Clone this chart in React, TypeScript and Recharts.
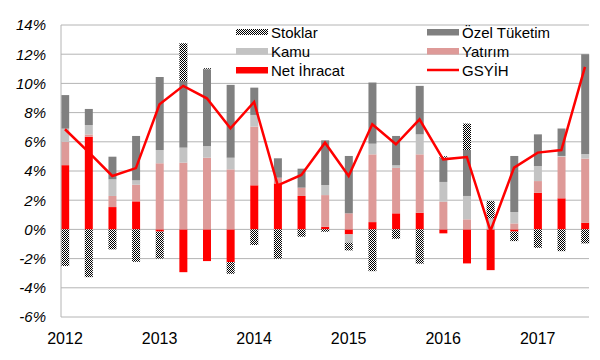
import { Bar, CartesianGrid, ComposedChart, Line, XAxis, YAxis } from "recharts";

const periods = [
  "2012-1", "2012-2", "2012-3", "2012-4",
  "2013-1", "2013-2", "2013-3", "2013-4",
  "2014-1", "2014-2", "2014-3", "2014-4",
  "2015-1", "2015-2", "2015-3", "2015-4",
  "2016-1", "2016-2", "2016-3", "2016-4",
  "2017-1", "2017-2", "2017-3"
];

const netIhracat = [4.4, 6.35, 1.53, 1.92, -0.15, -2.93, -2.17, -2.24, 3.02, 3.15, 2.29, 0.18, -0.34, 0.5, 1.1, 1.14, -0.27, -2.33, -2.79, -0.15, 2.51, 2.13, 0.46];
const yatirim = [1.6, 0.15, 0.76, 1.14, 4.53, 4.57, 4.91, 4.11, 4.02, 0.39, 0.57, 2.17, 1.1, 4.64, 3.11, 4.0, 1.9, 0.69, 0, 0.41, 0.8, 2.85, 4.39];
const kamu = [0.9, 0.65, 1.14, 0.3, 0.91, 1.03, 0.8, 0.8, 0.8, 0, 0, 0.69, -0.57, 0.73, 0.18, 1.37, 1.35, 1.6, 0.75, 0.78, 1.03, 0.05, 0.29];
const ozelTuketim = [2.3, 1.1, 1.55, 3.04, 5.0, 4.57, 5.26, 4.99, 1.87, 1.33, 1.3, 3.06, 3.93, 4.19, 2.01, 3.32, 1.66, 3.15, 0, 3.84, 2.17, 1.88, 6.86];
const stoklar = [-2.51, -3.27, -1.37, -2.22, -1.85, 2.58, 0.07, -0.8, -1.07, -2.01, -0.5, -0.16, -0.53, -2.86, -0.64, -2.35, 0.1, 1.81, 1.19, -0.65, -1.26, -1.49, -0.96];
const gsyih = [6.86, 5.3, 3.66, 4.2, 8.57, 9.83, 8.98, 6.93, 8.73, 3.02, 3.73, 5.94, 3.66, 7.2, 5.83, 7.54, 4.8, 4.96, -0.1, 4.23, 5.26, 5.44, 11.13];

const percentTicks = [-6, -4, -2, 0, 2, 4, 6, 8, 10, 12, 14];

const chartRows = periods.map((period, idx) => ({
  idx,
  period,
  netIhracat: netIhracat[idx],
  yatirim: yatirim[idx],
  kamu: kamu[idx],
  ozelTuketim: ozelTuketim[idx],
  stoklar: stoklar[idx],
  gsyih: gsyih[idx]
}));

const yearTicks = periods.map((p, i) => (p.endsWith("-1") ? i : -1)).filter((i) => i >= 0);

const FONT = '"Liberation Sans", Arial, sans-serif';
const GRID = "#b4b4b4";
const RED = "#ff0000";
const PINK = "#de9a98";
const LIGHT = "#c3c3c3";
const DARK = "#808080";

const legendItems = [
  { label: "Stoklar", kind: "pattern", color: "", left: 236, top: 32 },
  { label: "Kamu", kind: "box", color: LIGHT, left: 236, top: 51 },
  { label: "Net İhracat", kind: "box", color: RED, left: 236, top: 70 },
  { label: "Özel Tüketim", kind: "box", color: DARK, left: 427, top: 32 },
  { label: "Yatırım", kind: "box", color: PINK, left: 427, top: 51 },
  { label: "GSYİH", kind: "line", color: RED, left: 427, top: 70 }
];

function Swatch({ kind, color }: { kind: string; color: string }) {
  if (kind === "line") {
    return (
      <svg width={32} height={8} style={{ display: "block" }}>
        <line x1={0} x2={32} y1={4} y2={4} stroke={color} strokeWidth={2.5} />
      </svg>
    );
  }
  if (kind === "pattern") {
    return (
      <svg width={32} height={8} style={{ display: "block" }}>
        <defs>
          <pattern id="chkLegend" width={2} height={2} patternUnits="userSpaceOnUse">
            <rect width={2} height={2} fill="#fff" />
            <rect width={1} height={1} fill="#000" />
            <rect x={1} y={1} width={1} height={1} fill="#000" />
          </pattern>
        </defs>
        <rect x={0} y={1} width={32} height={6} fill="url(#chkLegend)" />
      </svg>
    );
  }
  return (
    <svg width={32} height={8} style={{ display: "block" }}>
      <rect x={0} y={1} width={32} height={6.5} fill={color} />
    </svg>
  );
}

export default function App() {
  return (
    <div style={{ position: "absolute", left: 0, top: 0, width: 600, height: 360, background: "#fff", fontFamily: FONT }}>
      <ComposedChart
        width={600}
        height={360}
        data={chartRows}
        stackOffset="sign"
        margin={{ top: 25, right: 11, left: 0, bottom: 0 }}
      >
        <defs>
          <pattern id="chkBar" width={2} height={2} patternUnits="userSpaceOnUse">
            <rect width={2} height={2} fill="#fff" />
            <rect width={1} height={1} fill="#000" />
            <rect x={1} y={1} width={1} height={1} fill="#000" />
          </pattern>
        </defs>
        <CartesianGrid vertical={false} stroke={GRID} />
        <XAxis
          dataKey="idx"
          type="number"
          domain={[0, 22]}
          padding={{ left: 4, right: 4 }}
          ticks={yearTicks}
          tickFormatter={(v: number) => periods[v].slice(0, 4)}
          axisLine={false}
          tickLine={false}
          tickSize={0}
          tickMargin={16}
          height={43}
          interval={0}
          tick={{ fill: "#000", fontSize: 16, fontFamily: FONT }}
        />
        <YAxis
          domain={[-6, 14]}
          ticks={percentTicks}
          tickFormatter={(v: number) => `${v}%`}
          width={61}
          axisLine={{ stroke: GRID }}
          tickLine={false}
          tickSize={0}
          tickMargin={15}
          interval={0}
          tick={{ fill: "#000", fontSize: 15, fontFamily: FONT, fontStyle: "italic" }}
        />
        <YAxis
          yAxisId="frame"
          orientation="right"
          domain={[-6, 14]}
          width={0}
          tick={false}
          tickLine={false}
          axisLine={{ stroke: GRID }}
        />
        <Bar dataKey="netIhracat" stackId="gdp" barSize={8} fill={RED} isAnimationActive={false} />
        <Bar dataKey="yatirim" stackId="gdp" barSize={8} fill={PINK} isAnimationActive={false} />
        <Bar dataKey="kamu" stackId="gdp" barSize={8} fill={LIGHT} isAnimationActive={false} />
        <Bar dataKey="ozelTuketim" stackId="gdp" barSize={8} fill={DARK} isAnimationActive={false} />
        <Bar dataKey="stoklar" stackId="gdp" barSize={8} fill="url(#chkBar)" isAnimationActive={false} />
        <Line dataKey="gsyih" type="linear" stroke={RED} strokeWidth={2.5} dot={false} isAnimationActive={false} />
      </ComposedChart>
      {legendItems.map((item) => (
        <div
          key={item.label}
          style={{
            position: "absolute",
            left: item.left,
            top: item.top - 9,
            height: 18,
            display: "flex",
            alignItems: "center",
            gap: 3,
            fontSize: 15,
            color: "#000",
            whiteSpace: "nowrap"
          }}
        >
          <Swatch kind={item.kind} color={item.color} />
          <span>{item.label}</span>
        </div>
      ))}
    </div>
  );
}
